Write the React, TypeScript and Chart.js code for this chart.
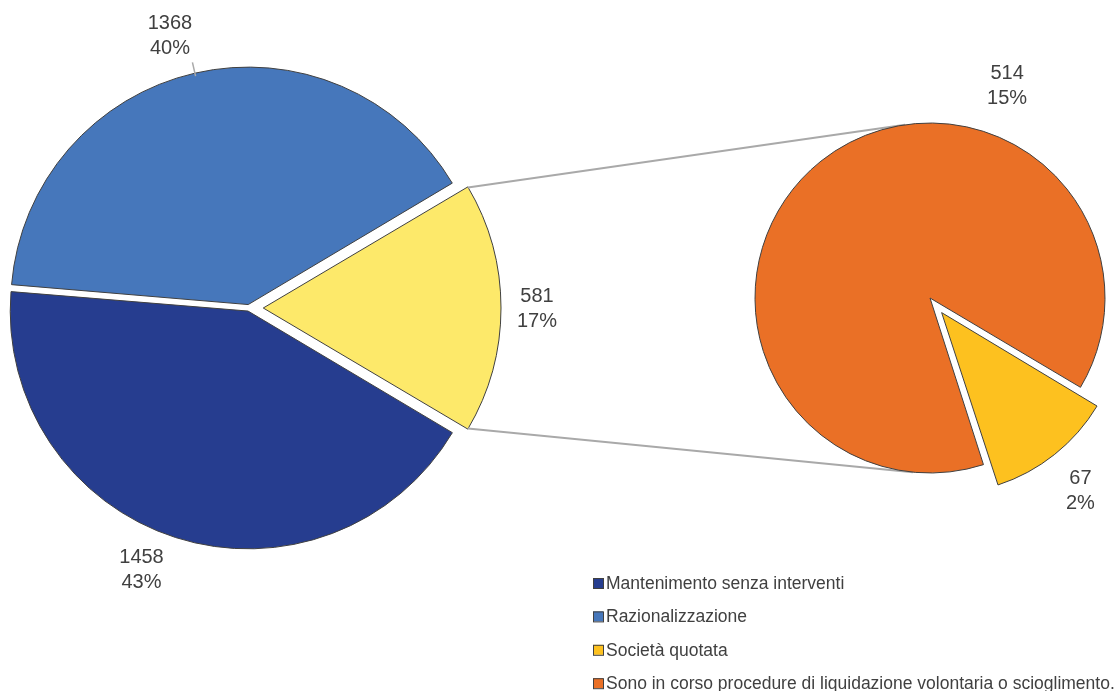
import React, { useEffect, useRef } from "react";
import { Chart, registerables } from "chart.js";

Chart.register(...registerables);

// ---------- data ----------
const mainLabels = ["Mantenimento senza interventi", "Razionalizzazione"];
const mainValues = [1458, 1368];
const subLabels = [
  "Società quotata",
  "Sono in corso procedure di liquidazione volontaria o scioglimento.",
];
const subValues = [67, 514];
const legendLabels = [...mainLabels, ...subLabels];

// ---------- styles ----------
const DARK = "#263d8f";
const BLUE = "#4677bb";
const YELLOW = "#fde96a";
const GOLD = "#fdc11f";
const ORANGE = "#ea7026";
const BORDER = "#404040";
const TEXT = "#404040";
const LINE = "#a9a9a9";
const FONT = "'Liberation Sans', Arial, sans-serif";
const legendColors = [DARK, BLUE, GOLD, ORANGE];

const W = 1115;
const H = 691;

const sum = (a: number[]) => a.reduce((s, v) => s + v, 0);
const otherValue = sum(subValues);
const leftValues = [otherValue, ...mainValues];
const leftColors = [YELLOW, DARK, BLUE];
const total = sum(mainValues) + otherValue;
const halfOther = ((otherValue / total) * 360) / 2;

// explosion in pixels (per slice)
const leftExplode = [16, 5, 5];
const rightExplode = [25, 0];

// Chart.js arc translation factor for a given circumference (radians)
const shiftFactor = (circ: number) => (1 + (1 - Math.sin(Math.min(Math.PI, circ)))) / 4;
const toOffsets = (px: number[], vals: number[]) => {
  const t = sum(vals);
  return vals.map((v, i) => {
    const circ = (v / t) * Math.PI * 2;
    return px[i] / shiftFactor(circ);
  });
};
const arcShift = (el: any) => (el.options.offset || 0) * shiftFactor(el.endAngle - el.startAngle);

// label placement (angle nudge in degrees, radius beyond center, leader line)
const leftLabelPlace = [
  { nudge: 0, r: 288, leader: false },
  { nudge: 4.6, r: 283, leader: false },
  { nudge: -3.2, r: 284, leader: true },
];
const rightLabelPlace = [
  { nudge: 0.5, r: 244, leader: false },
  { nudge: 58.5, r: 226, leader: false },
];

function drawLabels(chart: any, values: number[], place: any[]) {
  const ctx = chart.ctx;
  const meta = chart.getDatasetMeta(0);
  ctx.save();
  ctx.font = `20px ${FONT}`;
  ctx.fillStyle = TEXT;
  ctx.textAlign = "center";
  ctx.textBaseline = "middle";
  meta.data.forEach((el: any, i: number) => {
    const p = place[i];
    const mid = (el.startAngle + el.endAngle) / 2;
    const a = mid + (p.nudge * Math.PI) / 180;
    const x = el.x + Math.cos(a) * p.r;
    const y = el.y + Math.sin(a) * p.r;
    const pct = Math.round((values[i] / total) * 100);
    ctx.fillText(String(values[i]), x, y - 12);
    ctx.fillText(pct + "%", x, y + 13);
    if (p.leader) {
      const off = arcShift(el);
      const r0 = el.outerRadius + off - 3;
      const r1 = el.outerRadius + off + 11;
      ctx.strokeStyle = LINE;
      ctx.lineWidth = 1.5;
      ctx.beginPath();
      ctx.moveTo(el.x + Math.cos(mid) * r0, el.y + Math.sin(mid) * r0);
      ctx.lineTo(el.x + Math.cos(mid) * r1, el.y + Math.sin(mid) * r1);
      ctx.stroke();
    }
  });
  ctx.restore();
}

export default function App() {
  const leftRef = useRef<HTMLCanvasElement>(null);
  const rightRef = useRef<HTMLCanvasElement>(null);

  useEffect(() => {
    document.body.style.margin = "0";
    const leftChart = new Chart(leftRef.current as HTMLCanvasElement, {
      type: "pie",
      data: {
        labels: ["Altro", ...mainLabels],
        datasets: [
          {
            data: leftValues,
            backgroundColor: leftColors,
            borderColor: BORDER,
            borderWidth: 1,
            offset: toOffsets(leftExplode, leftValues),
          },
        ],
      },
      options: {
        responsive: false,
        maintainAspectRatio: false,
        animation: false,
        rotation: 90 - halfOther,
        radius: 236,
        layout: { padding: { left: 0, top: 0, right: W - 498, bottom: H - 616 } },
        plugins: { legend: { display: false }, tooltip: { enabled: false } },
      },
      plugins: [
        {
          id: "leftLabels",
          afterDatasetsDraw(chart: any) {
            drawLabels(chart, leftValues, leftLabelPlace);
          },
        },
      ],
    } as any);

    const rightChart = new Chart(rightRef.current as HTMLCanvasElement, {
      type: "pie",
      data: {
        labels: subLabels,
        datasets: [
          {
            data: subValues,
            backgroundColor: [GOLD, ORANGE],
            borderColor: BORDER,
            borderWidth: 1,
            offset: toOffsets(rightExplode, subValues),
          },
        ],
      },
      options: {
        responsive: false,
        maintainAspectRatio: false,
        animation: false,
        rotation: 90 + halfOther,
        radius: 175,
        layout: { padding: { left: 745, top: 0, right: 0, bottom: H - 596 } },
        plugins: { legend: { display: false }, tooltip: { enabled: false } },
      },
      plugins: [
        {
          id: "connectors",
          beforeDatasetsDraw(chart: any) {
            const ctx = chart.ctx;
            const yel: any = leftChart.getDatasetMeta(0).data[0];
            const rArc: any = chart.getDatasetMeta(0).data[1];
            const off = arcShift(yel);
            const mid = (yel.startAngle + yel.endAngle) / 2;
            const cx = yel.x + Math.cos(mid) * off;
            const cy = yel.y + Math.sin(mid) * off;
            const R = yel.outerRadius;
            const corners = [yel.startAngle, yel.endAngle].map((a: number) => ({
              x: cx + Math.cos(a) * R,
              y: cy + Math.sin(a) * R,
            }));
            const C = { x: rArc.x, y: rArc.y };
            const r = rArc.outerRadius;
            ctx.save();
            ctx.strokeStyle = LINE;
            ctx.lineWidth = 2;
            corners.forEach((P: any, i: number) => {
              const dx = P.x - C.x;
              const dy = P.y - C.y;
              const d = Math.hypot(dx, dy);
              const th = Math.atan2(dy, dx);
              const al = Math.acos(r / d);
              const t1 = { x: C.x + Math.cos(th + al) * r, y: C.y + Math.sin(th + al) * r };
              const t2 = { x: C.x + Math.cos(th - al) * r, y: C.y + Math.sin(th - al) * r };
              const T = i === 0 ? (t1.y < t2.y ? t1 : t2) : t1.y > t2.y ? t1 : t2;
              ctx.beginPath();
              ctx.moveTo(P.x, P.y);
              ctx.lineTo(T.x, T.y);
              ctx.stroke();
            });
            ctx.restore();
          },
          afterDatasetsDraw(chart: any) {
            drawLabels(chart, subValues, rightLabelPlace);
            const ctx = chart.ctx;
            ctx.save();
            ctx.font = `17.5px ${FONT}`;
            ctx.textBaseline = "middle";
            ctx.textAlign = "left";
            legendLabels.forEach((lab, i) => {
              const y = 583 + i * 33.4;
              ctx.fillStyle = legendColors[i];
              ctx.fillRect(593, y - 5, 10, 10);
              ctx.strokeStyle = BORDER;
              ctx.lineWidth = 1;
              ctx.strokeRect(593.5, y - 4.5, 10, 10);
              ctx.fillStyle = TEXT;
              ctx.fillText(lab, 606, y + 1);
            });
            ctx.restore();
          },
        },
      ],
    } as any);

    return () => {
      rightChart.destroy();
      leftChart.destroy();
    };
  }, []);

  const cs: React.CSSProperties = {
    position: "absolute",
    left: 0,
    top: 0,
    width: W,
    height: H,
  };
  return (
    <div style={{ position: "fixed", left: 0, top: 0, width: W, height: H, background: "#fff", overflow: "hidden" }}>
      <canvas ref={leftRef} width={W} height={H} style={cs} />
      <canvas ref={rightRef} width={W} height={H} style={cs} />
    </div>
  );
}
